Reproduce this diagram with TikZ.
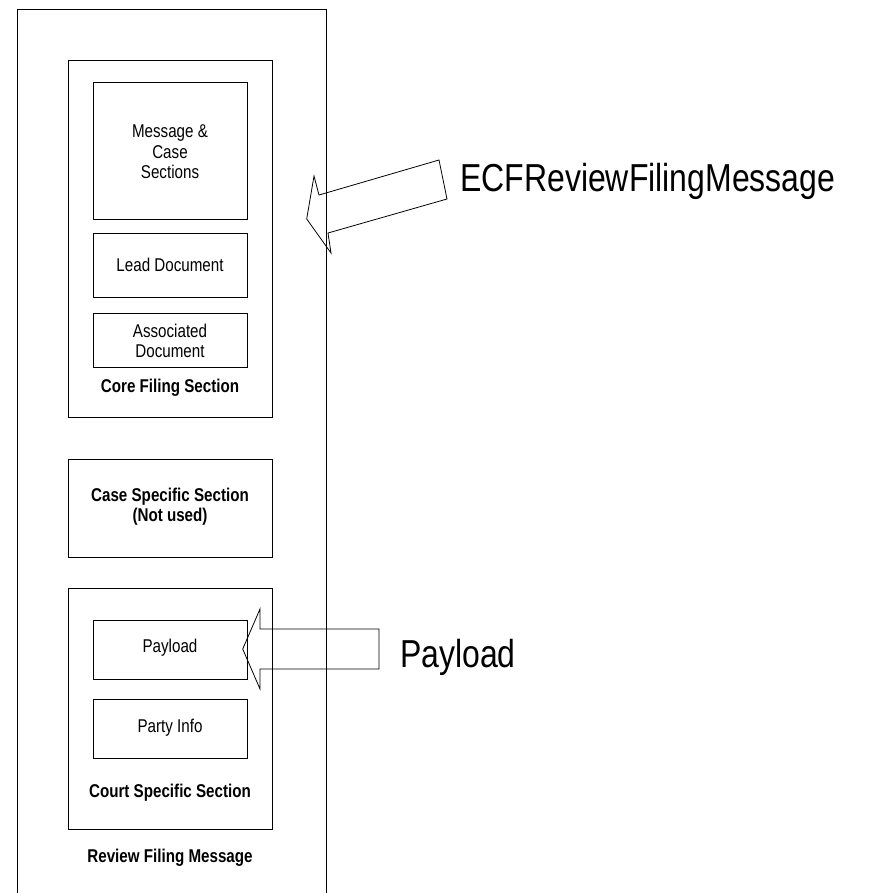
\documentclass[tikz,border=0pt]{standalone}
\usepackage{fontspec}
\setmainfont[FakeStretch=0.82]{Liberation Sans}
\begin{document}
\begin{tikzpicture}[x=1pt,y=-1pt,
  box/.style={draw=black,line width=0.8pt,rectangle,inner sep=0pt},
  small/.style={font=\fontsize{18.5}{20.5}\selectfont,align=center,inner sep=0pt},
  bsmall/.style={font=\fontsize{18.5}{20}\selectfont\bfseries,align=center,inner sep=0pt},
  big/.style={font=\fontsize{39}{44}\selectfont,inner sep=0pt},
  blockarrow/.style={draw=black,line width=0.8pt,line join=miter}]
\useasboundingbox (0,0) rectangle (876,893);
% containers
\node[box,minimum width=309pt,minimum height=900pt] (outer) at (171.5,459) {};
\node[box,minimum width=204pt,minimum height=357pt] (core) at (170,238.5) {};
\node[box,minimum width=204pt,minimum height=98pt] (casesp) at (170,508) {};
\node[box,minimum width=204pt,minimum height=241pt] (court) at (170,708.5) {};
% inner boxes
\node[box,minimum width=154pt,minimum height=137pt] (msg) at (170,150.5) {};
\node[box,minimum width=154pt,minimum height=64pt] (lead) at (170,265) {};
\node[box,minimum width=154pt,minimum height=54pt] (assoc) at (170,340) {};
\node[box,minimum width=154pt,minimum height=59pt] (payload) at (170,649.5) {};
\node[box,minimum width=154pt,minimum height=59pt] (party) at (170,728.5) {};
% texts
\node[small] (msgt) at (170,152) {Message \&\\Case\\Sections};
\node[small] (leadt) at (170,265) {Lead Document};
\node[small] (assoct) at (170,341) {Associated\\Document};
\node[bsmall] (coret) at (170,388) {Core Filing Section};
\node[bsmall] (casespt) at (170,507) {Case Specific Section\\(Not used)};
\node[small] (payloadt) at (170,648) {Payload};
\node[small] (partyt) at (170,728) {Party Info};
\node[bsmall] (courtt) at (170,793) {Court Specific Section};
\node[bsmall] (reviewt) at (170,858) {Review Filing Message};
\node[big,anchor=base west] (ecf) at (460,192) {ECFReviewFilingMessage};
\node[big,anchor=base west] (pay) at (400,667) {Payload};
% block arrows
\coordinate (ecftip) at (306.7,219);
\draw[blockarrow] (ecftip) -- (314,176) -- (319,195) -- (439,160) -- (447,199) -- (328,233) -- (331,253) -- cycle;
\coordinate (paytip) at (242.7,649);
\draw[blockarrow] (paytip) -- (260,609) -- (260,629) -- (379,629) -- (379,669) -- (260,669) -- (260,689) -- cycle;
\end{tikzpicture}
\end{document}
